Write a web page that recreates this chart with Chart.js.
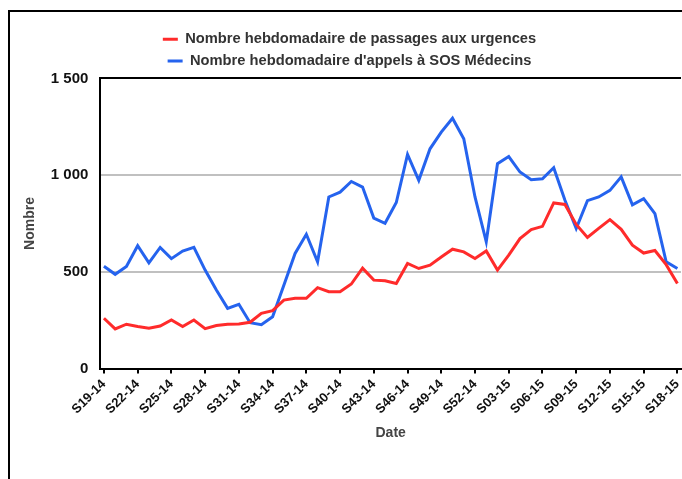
<!DOCTYPE html>
<html>
<head>
<meta charset="utf-8">
<script src="https://cdn.jsdelivr.net/npm/chart.js@4.4.1/dist/chart.umd.min.js"></script>
<style>
  html, body { margin: 0; padding: 0; background: #fff; overflow: hidden; }
  #frame {
    position: absolute; left: 8px; top: 10px; width: 700px; height: 500px;
    border: 2px solid #000;
  }
  #wrap { position: absolute; left: 0; top: 0; width: 682px; height: 479px; }
</style>
</head>
<body>
<div id="frame"></div>
<div id="wrap"><canvas id="chart" width="682" height="479"></canvas></div>
<script>
// semaines S19-14 -> S18-15
const weeks = [
  "S19-14", "S20-14", "S21-14", "S22-14", "S23-14", "S24-14", "S25-14", "S26-14",
  "S27-14", "S28-14", "S29-14", "S30-14", "S31-14", "S32-14", "S33-14", "S34-14",
  "S35-14", "S36-14", "S37-14", "S38-14", "S39-14", "S40-14", "S41-14", "S42-14",
  "S43-14", "S44-14", "S45-14", "S46-14", "S47-14", "S48-14", "S49-14", "S50-14",
  "S51-14", "S52-14", "S01-15", "S02-15", "S03-15", "S04-15", "S05-15", "S06-15",
  "S07-15", "S08-15", "S09-15", "S10-15", "S11-15", "S12-15", "S13-15", "S14-15",
  "S15-15", "S16-15", "S17-15", "S18-15"
];

const passagesUrgences = [
  260, 205, 229, 217, 208, 220, 251, 217, 251, 206,
  222, 229, 230, 239, 285, 299, 354, 363, 363, 418,
  397, 397, 437, 519, 457, 454, 440, 543, 517, 534,
  577, 617, 603, 569, 608, 509, 586, 672, 718, 735,
  856, 848, 745, 678, 725, 770, 720, 638, 597, 610,
  537, 440
];

const appelsSOS = [
  529, 487, 528, 635, 546, 626, 568, 607, 626, 509,
  406, 311, 332, 237, 227, 268, 431, 595, 694, 552,
  887, 912, 967, 938, 778, 751, 858, 1107, 973, 1136,
  1222, 1294, 1188, 887, 655, 1059, 1096, 1016, 976, 981,
  1038, 870, 724, 868, 887, 921, 991, 846, 878, 801,
  552, 517
];

const yTicks = [0, 500, 1000, 1500];

const formatNombre = (v) => String(v).replace(/\B(?=(\d{3})+(?!\d))/g, " ");

// points {x: index, y: valeur}
const toPoints = (serie) => serie.map((v, i) => ({ x: i, y: v }));

const ctx = document.getElementById("chart").getContext("2d");
new Chart(ctx, {
  type: "line",
  data: {
    datasets: [
      {
        label: "Nombre hebdomadaire de passages aux urgences",
        data: toPoints(passagesUrgences),
        borderColor: "#ff2b2b",
        backgroundColor: "#ff2b2b",
        borderWidth: 3,
        pointRadius: 0,
        tension: 0,
      },
      {
        label: "Nombre hebdomadaire d'appels à SOS Médecins",
        data: toPoints(appelsSOS),
        borderColor: "#2563ee",
        backgroundColor: "#2563ee",
        borderWidth: 3,
        pointRadius: 0,
        tension: 0,
      },
    ],
  },
  options: {
    responsive: false,
    animation: false,
    layout: { padding: { left: 18, right: 1, top: 25, bottom: 33 } },
    plugins: {
      tooltip: { enabled: false },
      legend: {
        position: "top",
        labels: {
          usePointStyle: true,
          pointStyle: "line",
          pointStyleWidth: 15,
          color: "#333",
          font: { family: "Liberation Sans", size: 14.7, weight: "bold" },
          padding: 7,
        },
      },
    },
    scales: {
      x: {
        type: "linear",
        min: -0.32,
        max: weeks.length - 1 + 0.32,
        afterBuildTicks: (axis) => {
          axis.ticks = weeks
            .map((w, i) => i)
            .filter((i) => i % 3 === 0)
            .map((i) => ({ value: i }));
        },
        afterFit: (axis) => {
          axis.paddingLeft = 0;
          axis.paddingRight = 0;
        },
        border: { color: "#000", width: 2 },
        grid: {
          drawOnChartArea: false,
          drawTicks: true,
          tickLength: 5,
          color: "#000",
          lineWidth: 2,
        },
        ticks: {
          autoSkip: false,
          maxRotation: 45,
          minRotation: 45,
          color: "#111",
          font: { family: "Liberation Sans", size: 13, weight: "bold" },
          callback: (v) => weeks[v],
        },
        title: {
          display: true,
          text: "Date",
          color: "#444",
          font: { family: "Liberation Sans", size: 14, weight: "bold" },
          padding: { top: 5 },
        },
      },
      y: {
        min: 0,
        max: 1500,
        afterBuildTicks: (axis) => {
          axis.ticks = yTicks.map((v) => ({ value: v }));
        },
        border: { color: "#000", width: 2 },
        grid: {
          drawTicks: false,
          lineWidth: 2,
          color: (c) => (c.tick && c.tick.value === 1500 ? "#000" : "#c0c0c0"),
        },
        ticks: {
          padding: 12,
          color: "#111",
          font: { family: "Liberation Sans", size: 15, weight: "bold" },
          callback: (v) => formatNombre(v),
        },
        title: {
          display: true,
          text: "Nombre",
          color: "#444",
          font: { family: "Liberation Sans", size: 14, weight: "bold" },
          padding: { bottom: 0 },
        },
      },
    },
  },
});
</script>
</body>
</html>
